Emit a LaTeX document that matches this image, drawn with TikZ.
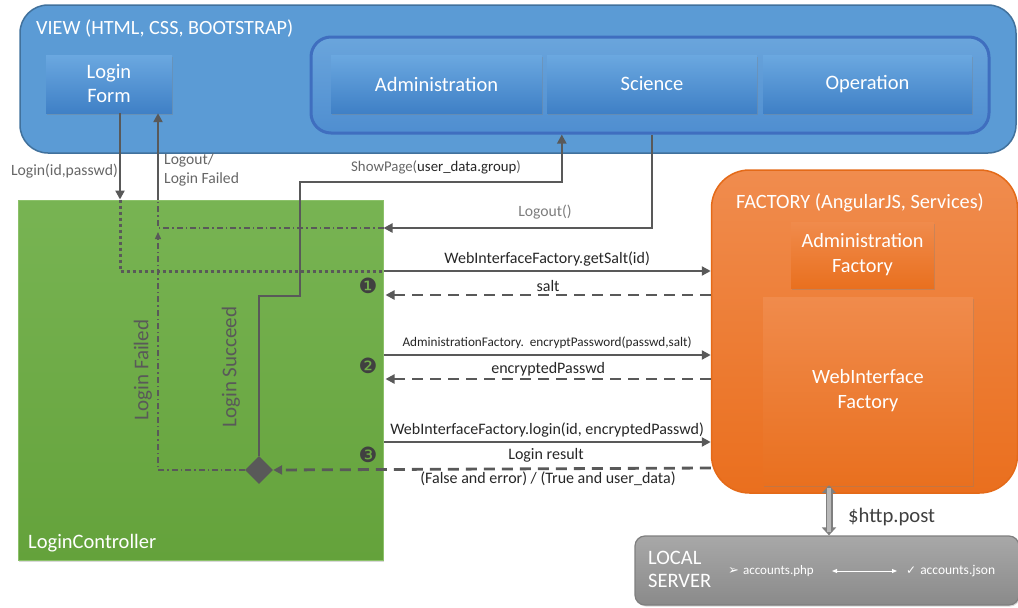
\documentclass[tikz,border=0pt]{standalone}
\usepackage{fontspec}
\setmainfont{Carlito}
\newfontfamily\dejavu{DejaVu Sans}
\usetikzlibrary{arrows.meta,shapes.geometric,shadows,calc}
\definecolor{viewblue}{HTML}{5B9BD5}
\definecolor{viewborder}{HTML}{41719C}
\definecolor{innerborder}{HTML}{3F6EBF}
\definecolor{innertop}{HTML}{6AA5DC}
\definecolor{innerbot}{HTML}{4F8ED0}
\definecolor{btntop}{HTML}{6BA8E0}
\definecolor{btnbot}{HTML}{3F80C6}
\definecolor{greentop}{HTML}{78B453}
\definecolor{greenbot}{HTML}{64A23B}
\definecolor{greenborder}{HTML}{8CC16A}
\definecolor{orangetop}{HTML}{F08C4E}
\definecolor{orangebot}{HTML}{EA6F1E}
\definecolor{orangeborder}{HTML}{E46A18}
\definecolor{obtntop}{HTML}{F08B4C}
\definecolor{obtnbot}{HTML}{E9701F}
\definecolor{servertop}{HTML}{A8A8A8}
\definecolor{serverbot}{HTML}{8A8A8A}
\definecolor{serverborder}{HTML}{7F7F7F}
\definecolor{linegray}{HTML}{595959}
\definecolor{labgray}{HTML}{666666}
\definecolor{txtdark}{HTML}{262626}
\definecolor{numgray}{HTML}{404040}
\begin{document}
\begin{tikzpicture}[x=1pt,y=-1pt,
  btn/.style={top color=btntop, bottom color=btnbot, text=white, align=center,
    font=\fontsize{20.5}{24}\selectfont, inner sep=0pt,
    drop shadow={shadow xshift=1pt, shadow yshift=-1.5pt, opacity=0.35}},
  obtn/.style={top color=obtntop, bottom color=obtnbot, text=white, align=center,
    font=\fontsize{20.3}{25}\selectfont, inner sep=0pt,
    drop shadow={shadow xshift=1pt, shadow yshift=-1.5pt, opacity=0.35}},
  arr/.style={draw=linegray, line width=2.6pt, -{Triangle[length=9pt,width=9pt]}},
  dashline/.style={draw=linegray, line width=2.8pt, dash pattern=on 11pt off 7pt, -{Triangle[length=9pt,width=9pt]}},
  dotline/.style={draw=linegray, line width=3pt, dash pattern=on 3pt off 3pt},
  dashdot/.style={draw=linegray, line width=1.4pt, dash pattern=on 6pt off 3pt on 1.4pt off 3pt},
  lab/.style={font=\fontsize{16}{19}\selectfont, text=txtdark, inner sep=1pt},
  glab/.style={font=\fontsize{15.7}{18}\selectfont, text=labgray, inner sep=1pt},
  num/.style={font=\dejavu\fontsize{21}{21}\selectfont, text=numgray, inner sep=0pt}
]
\useasboundingbox (0,0) rectangle (1018,608);
% ---------- VIEW ----------
\node[draw=viewborder, line width=1.5pt, fill=viewblue, rounded corners=28pt,
  minimum width=996pt, minimum height=148pt, inner sep=0pt] (view) at (518,79) {};
\node[anchor=west, text=white, font=\fontsize{20.2}{24}\selectfont, inner sep=0pt] (viewt) at (36,29) {VIEW (HTML, CSS, BOOTSTRAP)};
\node[draw=innerborder, line width=3pt, top color=innertop, bottom color=innerbot, rounded corners=20pt,
  minimum width=678pt, minimum height=96pt, inner sep=0pt] (inner) at (650,85) {};
\node[btn, minimum width=126pt, minimum height=58pt] (login) at (109,84) {Login\\Form};
\node[btn, minimum width=211pt, minimum height=58pt] (admin) at (436.5,84) {Administration};
\node[btn, minimum width=210pt, minimum height=58pt] (science) at (652,84) {Science};
\node[btn, minimum width=209pt, minimum height=58pt] (oper) at (867.5,84) {Operation};
% ---------- CONTROLLER ----------
\node[draw=greenborder, line width=1pt, top color=greentop, bottom color=greenbot,
  minimum width=365pt, minimum height=360pt, inner sep=0pt,
  drop shadow={shadow xshift=1pt, shadow yshift=-1.5pt, opacity=0.3}] (ctrl) at (200.5,380) {};
\node[anchor=west, text=white, font=\fontsize{20.5}{24}\selectfont, inner sep=0pt] (ctrlt) at (28,543) {LoginController};
% ---------- FACTORY ----------
\node[draw=orangeborder, line width=1.5pt, top color=orangetop, bottom color=orangebot, rounded corners=38pt,
  minimum width=306pt, minimum height=323pt, inner sep=0pt] (factory) at (864.5,331.5) {};
\node[anchor=west, text=white, font=\fontsize{20.3}{24}\selectfont, inner sep=0pt] (factt) at (736,203) {FACTORY (AngularJS, Services)};
\node[obtn, minimum width=143pt, minimum height=66pt] (adminf) at (862.5,255) {Administration\\Factory};
\node[obtn, minimum width=210pt, minimum height=188pt] (webf) at (868,391) {WebInterface\\Factory};
% ---------- SERVER ----------
\node[draw=serverborder, line width=1.2pt, top color=servertop, bottom color=serverbot, rounded corners=10pt,
  minimum width=384pt, minimum height=69pt, inner sep=0pt,
  drop shadow={shadow xshift=1pt, shadow yshift=-1.5pt, opacity=0.3}] (server) at (827,570.5) {};
\node[anchor=west, text=white, align=left, font=\fontsize{20.5}{23}\selectfont, inner sep=0pt] (localt) at (648,569) {LOCAL\\SERVER};
\node[anchor=west, text=white, font=\fontsize{13}{15}\selectfont, inner sep=0pt] (php) at (728,571) {{\dejavu\fontsize{13}{13}\selectfont ➢}\hspace{4pt}accounts.php};
\node[anchor=west, text=white, font=\fontsize{13.5}{15}\selectfont, inner sep=0pt] (json) at (906,571) {{\dejavu\fontsize{12}{12}\selectfont ✓}\hspace{4pt}accounts.json};
\draw[white, line width=0.9pt, {Triangle[length=5pt,width=4pt]}-{Triangle[length=5pt,width=4pt]}]
  ([xshift=18pt]php.east) -- ([xshift=-9pt]json.west);
% ---------- helper coordinates ----------
\coordinate (xl) at ([xshift=11pt]login.south);
\coordinate (xf) at ([xshift=49pt]login.south);
\coordinate (rLogout) at (0,228);
\coordinate (rLF) at (0,232);
\coordinate (rSalt) at (0,271);
\coordinate (rSaltB) at (0,295);
\coordinate (rEnc) at (0,355);
\coordinate (rEncB) at (0,379);
\coordinate (rLogin) at (0,442);
\coordinate (rRes) at (0,468);
\coordinate (rShow) at (0,182);
\coordinate (rStep) at (0,296);
\coordinate (xs) at (300,0);
\coordinate (xshow) at ([xshift=15pt]science.west);
\coordinate (xhttp) at (829,0);
% ---------- decision ----------
\node[diamond, fill=linegray, minimum width=28pt, minimum height=28pt, inner sep=0pt] (dec) at (259,470) {};
% ---------- connectors ----------
% Login(id,passwd)
\draw[arr] (xl) -- (xl |- ctrl.north);
\node[glab, anchor=east] (lidlab) at (119,171) {Login(id,passwd)};
% Logout / Login failed
\draw[arr] (xf |- ctrl.north) -- (xf);
\node[glab, anchor=west, align=left, font=\fontsize{15.6}{19}\selectfont] (lolab) at (163,170) {Logout/\\Login Failed};
% dotted from login arrow to getSalt
\draw[dotline] (xl |- ctrl.north) -- (xl |- rSalt) -- (ctrl.east |- rSalt);
% getSalt
\draw[arr] (ctrl.east |- rSalt) -- (factory.west |- rSalt) node[lab, midway, above=2pt] (gslab) {WebInterfaceFactory.getSalt(id)};
\draw[dashline] (factory.west |- rSaltB) -- ([xshift=2pt]ctrl.east |- rSaltB) node[lab, midway, above=1pt] (saltlab) {salt};
% encrypt
\draw[arr] (ctrl.east |- rEnc) -- (factory.west |- rEnc) node[lab, midway, above=4pt, font=\fontsize{13.2}{15}\selectfont] (enclab) {AdministrationFactory.\ \ encryptPassword(passwd,salt)};
\draw[dashline] (factory.west |- rEncB) -- ([xshift=2pt]ctrl.east |- rEncB) node[lab, midway, above=1pt] (enbklab) {encryptedPasswd};
% login
\draw[arr] (ctrl.east |- rLogin) -- (factory.west |- rLogin) node[lab, midway, above=2pt] (loglab) {WebInterfaceFactory.login(id, encryptedPasswd)};
\draw[dashline] (factory.west |- rRes) -- (dec.east);
\node[lab] (reslab) at (546,455) {Login result};
\node[lab] (reslab2) at (548,479) {(False and error) / (True and user\_data)};
% Logout()
\draw[arr] (science.south |- inner.south) -- (science.south |- rLogout) -- (ctrl.east |- rLogout);
\node[glab, text=labgray!85] (lgolab) at (545,212) {Logout()};
\draw[dashdot] (ctrl.east |- rLogout) -- (xf |- rLogout) -- (xf |- ctrl.north);
% Login failed
\draw[dashdot, -{Triangle[length=7pt,width=6pt]}] (dec.west) -- (xf |- dec.west) -- (xf |- rLF);
% Login succeed -> ShowPage
\draw[arr] (dec.north) -- (dec.north |- rStep) -- (xs |- rStep) -- (xs |- rShow) -- (xshow |- rShow) -- (xshow |- inner.south);
\node[glab, anchor=west, font=\fontsize{14.8}{17}\selectfont] (splab) at (350,167) {ShowPage(\textcolor{txtdark}{user\_data.group})};
% rotated labels
\node[rotate=90, text=linegray, font=\fontsize{21}{24}\selectfont, inner sep=0pt] (lflab) at (143,370) {Login Failed};
\node[rotate=90, text=linegray, font=\fontsize{21}{24}\selectfont, inner sep=0pt] (lslab) at (231,367) {Login Succeed};
% numbers
\node[num] (n1) at (368,286) {❶};
\node[num] (n2) at (368,366) {❷};
\node[num] (n3) at (368,455) {❸};
% $http.post
\draw[draw=serverborder, line width=7pt, {Triangle[length=8pt,width=14pt]}-{Triangle[length=8pt,width=14pt]}]
  (xhttp |- webf.south) -- (xhttp |- server.north);
\draw[draw=servertop!80!white, line width=4.5pt, shorten <=3pt, shorten >=3pt]
  (xhttp |- webf.south) -- (xhttp |- server.north);
\node[anchor=west, text=numgray, font=\fontsize{20.7}{24}\selectfont, inner sep=0pt] (httplab) at (848,517) {\$http.post};
\end{tikzpicture}
\end{document}
